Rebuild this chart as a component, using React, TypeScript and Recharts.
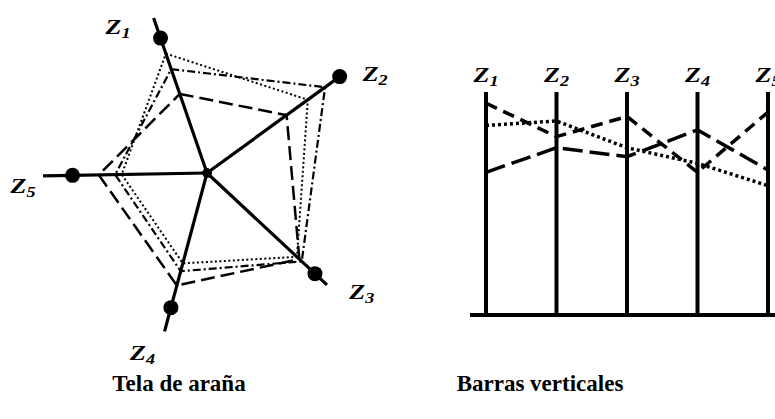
import React from "react";
import {
  RadarChart,
  Radar,
  PolarGrid,
  PolarAngleAxis,
  PolarRadiusAxis,
  LineChart,
  Line,
  XAxis,
  YAxis,
  ReferenceLine,
} from "recharts";

const SERIF = "'Liberation Serif', 'Times New Roman', 'DejaVu Serif', serif";

const AXES = ["Z1", "Z2", "Z3", "Z4", "Z5"];

// spider web: axis angle, clockwise from Z1, in degrees
const SPIDER_ANGLES = [0, 73, 152, 214, 288];
const SPIDER_MARKS = [87, 100, 90, 85, 82];
const SPIDER_DOTTED = [77, 76, 75, 57, 52];
const SPIDER_DASHDOT = [67, 89, 79, 62, 56];
const SPIDER_LONGDASH = [51, 60, 77, 71, 66];
const SPIDER_CENTER = [0, 0, 0, 0, 0];

// vertical bars (parallel axes)
const BAR_LONGDASH = [64, 75, 71, 83, 65];
const BAR_SHORTDASH = [95, 80, 89, 64, 91];
const BAR_DOTTED = [85, 87, 75, 68, 58];

const spiderData = AXES.map((name, i) => ({
  name,
  angle: SPIDER_ANGLES[i],
  marks: SPIDER_MARKS[i],
  dotted: SPIDER_DOTTED[i],
  dashdot: SPIDER_DASHDOT[i],
  longdash: SPIDER_LONGDASH[i],
  center: SPIDER_CENTER[i],
}));

const barData = AXES.map((name, i) => ({
  name,
  longdash: BAR_LONGDASH[i],
  shortdash: BAR_SHORTDASH[i],
  dotted: BAR_DOTTED[i],
}));

// label nudges from the tick point (style only)
const SPIDER_LABEL_NUDGE = [
  [-33, 24],
  [29, 9],
  [29, 9],
  [-20, 21],
  [-12, 17],
];

function ZLabel({ x, y, name }: { x: number; y: number; name: string }) {
  return (
    <g transform={`translate(${x},${y}) scale(1.3,1)`}>
      <text
        textAnchor="middle"
        fontFamily={SERIF}
        fontWeight="bold"
        fontStyle="italic"
        fontSize={20}
        fill="#000"
      >
        {name.slice(0, 1)}
        <tspan fontSize={14} dy={4}>
          {name.slice(1)}
        </tspan>
      </text>
    </g>
  );
}

const SpiderTick = (props: any) => {
  const { x, y, payload, index } = props;
  let i = SPIDER_ANGLES.indexOf(Number(payload?.value));
  if (i < 0) i = index;
  if (i == null || i < 0 || i >= AXES.length) return null;
  const [dx, dy] = SPIDER_LABEL_NUDGE[i];
  return <ZLabel x={x + dx} y={y + dy} name={AXES[i]} />;
};

const BarTick = (props: any) => {
  const { x, y, payload } = props;
  return <ZLabel x={x} y={y - 2} name={String(payload?.value)} />;
};

const titleStyle: React.CSSProperties = {
  position: "absolute",
  width: 300,
  textAlign: "center",
  fontFamily: SERIF,
  fontWeight: "bold",
  fontSize: 23,
  lineHeight: "24px",
  color: "#000",
};

export default function App() {
  return (
    <div
      style={{
        position: "absolute",
        left: 0,
        top: 0,
        width: 775,
        height: 419,
        overflow: "hidden",
        background: "#fff",
      }}
    >
      <div style={{ position: "absolute", left: 0, top: 0 }}>
        <RadarChart
          width={420}
          height={370}
          data={spiderData}
          cx={207}
          cy={173}
          outerRadius={164}
          startAngle={109}
          endAngle={-251}
          margin={{ top: 0, right: 0, bottom: 0, left: 0 }}
        >
          <PolarGrid gridType="polygon" polarRadius={[]} stroke="#000" strokeWidth={3.2} />
          <PolarAngleAxis
            dataKey="angle"
            type="number"
            domain={[0, 360]}
            ticks={SPIDER_ANGLES}
            axisLine={false}
            tickLine={false}
            tick={(p: any) => <SpiderTick {...p} />}
          />
          <PolarRadiusAxis domain={[0, 100]} tick={false} axisLine={false} />
          <Radar
            dataKey="dotted"
            stroke="#000"
            strokeWidth={2}
            strokeDasharray="2 2.5"
            fill="none"
            isAnimationActive={false}
          />
          <Radar
            dataKey="dashdot"
            stroke="#000"
            strokeWidth={2.2}
            strokeDasharray="8 3 2 3"
            fill="none"
            isAnimationActive={false}
          />
          <Radar
            dataKey="longdash"
            stroke="#000"
            strokeWidth={2.5}
            strokeDasharray="14 6"
            fill="none"
            isAnimationActive={false}
          />
          <Radar
            dataKey="marks"
            stroke="none"
            fill="none"
            dot={{ r: 7.5, fill: "#000", stroke: "none" }}
            isAnimationActive={false}
          />
          <Radar
            dataKey="center"
            stroke="none"
            fill="none"
            dot={{ r: 4.5, fill: "#000", stroke: "none" }}
            isAnimationActive={false}
          />
        </RadarChart>
      </div>

      <div style={{ position: "absolute", left: 440, top: 50 }}>
        <LineChart
          width={350}
          height={272}
          data={barData}
          margin={{ top: 12, right: 2, bottom: 5, left: 30 }}
        >
          <XAxis
            xAxisId="top"
            orientation="top"
            dataKey="name"
            height={30}
            axisLine={false}
            tickLine={false}
            interval={0}
            padding={{ left: 16, right: 20 }}
            tick={(p: any) => <BarTick {...p} />}
          />
          <XAxis
            xAxisId="bottom"
            orientation="bottom"
            dataKey="name"
            height={2}
            tick={false}
            tickLine={false}
            axisLine={{ stroke: "#000", strokeWidth: 4 }}
            padding={{ left: 16, right: 20 }}
          />
          <YAxis hide domain={[0, 100]} />
          {AXES.map((name) => (
            <ReferenceLine
              key={name}
              xAxisId="top"
              x={name}
              stroke="#000"
              strokeWidth={4}
            />
          ))}
          <Line
            xAxisId="top"
            type="linear"
            dataKey="longdash"
            stroke="#000"
            strokeWidth={3.5}
            strokeDasharray="20 7"
            dot={false}
            isAnimationActive={false}
          />
          <Line
            xAxisId="top"
            type="linear"
            dataKey="shortdash"
            stroke="#000"
            strokeWidth={3.5}
            strokeDasharray="12 7"
            dot={false}
            isAnimationActive={false}
          />
          <Line
            xAxisId="top"
            type="linear"
            dataKey="dotted"
            stroke="#000"
            strokeWidth={3.5}
            strokeDasharray="3 3"
            dot={false}
            isAnimationActive={false}
          />
        </LineChart>
      </div>

      <div style={{ ...titleStyle, left: 29, top: 372 }}>Tela de araña</div>
      <div style={{ ...titleStyle, left: 390, top: 372 }}>Barras verticales</div>
    </div>
  );
}
